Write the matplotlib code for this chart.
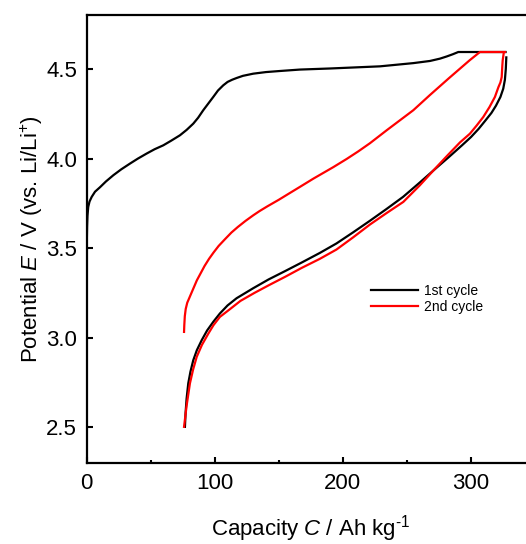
import matplotlib
matplotlib.use("Agg")
import matplotlib.pyplot as plt
from matplotlib.ticker import MultipleLocator

plt.rcParams['font.family'] = ['Liberation Sans', 'DejaVu Sans']
plt.rcParams['mathtext.fontset'] = 'custom'
plt.rcParams['mathtext.rm'] = 'Liberation Sans'
plt.rcParams['mathtext.it'] = 'Liberation Sans:italic'

# ---- data (capacity in Ah/kg, potential in V) ----
charge1_c = [0, 0, 0.3, 0.6, 1.2, 2.2, 3.9, 6.5, 10.4, 15, 20.8, 27, 33.8, 40, 46.8, 53, 59.8, 66,
             72.8, 78, 83.2, 87, 91.0, 95, 98.8, 102.5, 106.6, 110, 113.5, 117.1, 122, 130, 140,
             150.9, 166.5, 190, 229, 255, 268, 275.8, 281, 286, 290.1, 300, 327]
charge1_v = [3.11, 3.5, 3.62, 3.68, 3.73, 3.76, 3.786, 3.815, 3.84, 3.872, 3.907, 3.94, 3.972, 4.0,
             4.028, 4.052, 4.074, 4.1, 4.13, 4.16, 4.195, 4.228, 4.27, 4.308, 4.344, 4.38, 4.409,
             4.428, 4.44, 4.45, 4.462, 4.474, 4.483, 4.489, 4.497, 4.503, 4.515, 4.533, 4.545,
             4.558, 4.57, 4.583, 4.595, 4.595, 4.595]

discharge1_c = [327.6, 327.5, 327.2, 326.5, 325.2, 323, 319.5, 316, 311, 306, 300, 293, 283, 273, 260,
                247, 234, 221, 208, 195, 182, 168, 155, 142, 130, 117, 110, 104, 99, 94, 89.8, 86,
                83.2, 81, 79.3, 78, 77.2, 76.7]
discharge1_v = [4.565, 4.549, 4.5, 4.44, 4.39, 4.344, 4.295, 4.255, 4.21, 4.166, 4.12, 4.074, 4.01,
                3.948, 3.866, 3.786, 3.718, 3.652, 3.588, 3.526, 3.473, 3.42, 3.372, 3.325, 3.276,
                3.22, 3.18, 3.135, 3.09, 3.04, 2.986, 2.93, 2.874, 2.81, 2.745, 2.66, 2.58, 2.502]

charge2_c = [76, 76.2, 76.6, 77.3, 78.5, 80, 83, 86, 89, 92, 95.5, 99, 103, 108, 113, 118, 124, 130,
             135, 141, 150, 158, 166.5, 177, 192.5, 203, 212, 221.2, 234.2, 244.6, 255, 268, 283,
             299, 307, 326.6]
charge2_v = [3.032, 3.07, 3.12, 3.16, 3.195, 3.22, 3.27, 3.32, 3.36, 3.40, 3.44, 3.475, 3.512, 3.55,
             3.587, 3.618, 3.652, 3.683, 3.707, 3.733, 3.77, 3.805, 3.842, 3.888, 3.952, 3.998, 4.04,
             4.086, 4.158, 4.214, 4.27, 4.355, 4.45, 4.549, 4.595, 4.595]

discharge2_c = [325.5, 324.8, 324.5, 324, 323, 321.5, 318.7, 314.5, 309.6, 304.5, 299.2, 291.4, 282,
                273.2, 260, 247.2, 234, 221.2, 208, 195, 182, 168, 155, 142, 131, 120, 112, 104, 99,
                95, 90, 85.9, 83, 80.6, 78, 76]
discharge2_v = [4.585, 4.55, 4.52, 4.455, 4.425, 4.4, 4.344, 4.288, 4.232, 4.185, 4.139, 4.09, 4.02,
                3.953, 3.85, 3.758, 3.695, 3.632, 3.56, 3.492, 3.44, 3.39, 3.34, 3.292, 3.25, 3.205,
                3.16, 3.116, 3.07, 3.023, 2.96, 2.893, 2.82, 2.745, 2.62, 2.502]

series_labels = ['1st cycle', '2nd cycle']
x_ticks = [0, 100, 200, 300]
y_ticks = [2.5, 3.0, 3.5, 4.0, 4.5]

# ---- figure ----
fig = plt.figure(figsize=(5.26, 5.44), dpi=100)
ax = fig.add_axes([86.7 / 526, (544 - 463) / 544, (535 - 86.7) / 526, (463 - 15.3) / 544])

lw = 1.6
ax.plot(charge1_c, charge1_v, color='black', lw=lw, label=series_labels[0], zorder=2)
ax.plot(discharge1_c, discharge1_v, color='black', lw=lw, zorder=2)
ax.plot(charge2_c, charge2_v, color='#ff0000', lw=lw, label=series_labels[1], zorder=3)
ax.plot(discharge2_c, discharge2_v, color='#ff0000', lw=lw, zorder=3)

ax.set_xlim(0, 350)
ax.set_ylim(2.3, 4.8)
ax.set_xticks(x_ticks)
ax.set_yticks(y_ticks)
ax.set_yticklabels([f'{t:.1f}' for t in y_ticks])
ax.xaxis.set_minor_locator(MultipleLocator(50))

for s in ['left', 'bottom', 'top']:
    ax.spines[s].set_linewidth(1.6)
ax.spines['right'].set_visible(False)

ax.tick_params(axis='both', which='major', direction='in', length=4, width=1.5,
               labelsize=16, pad=7, top=False, right=False)
ax.tick_params(axis='x', which='minor', direction='in', length=2.5, width=1.5, top=False)

ax.set_xlabel(r'Capacity $\mathit{C}$ / Ah kg$^{\text{-1}}$', fontsize=16, labelpad=14)
ax.set_ylabel(r'Potential $\mathit{E}$ / V (vs. Li/Li$^{+}$)', fontsize=16, labelpad=1)

leg = ax.legend(loc='center left', bbox_to_anchor=(370.7 / 526, 1 - 299 / 544),
                bbox_transform=fig.transFigure, frameon=False, fontsize=10,
                handlelength=3.4, handletextpad=0.45, labelspacing=0.15,
                borderpad=0, borderaxespad=0)

fig.savefig('out.png', dpi=100)
